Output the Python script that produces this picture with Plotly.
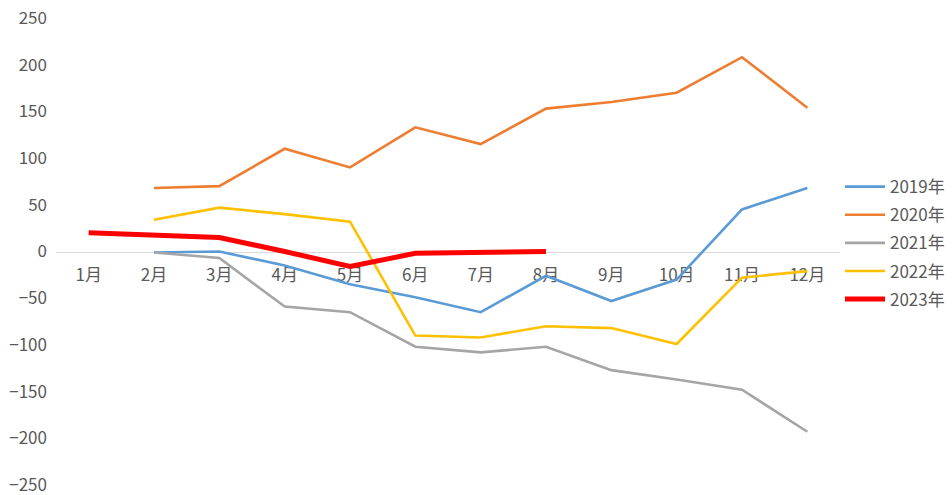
import plotly.graph_objects as go

months = ['1月', '2月', '3月', '4月', '5月', '6月', '7月', '8月', '9月', '10月', '11月', '12月']

y2019 = [None, -1, 0, -15, -35, -49, -65, -26, -53, -30, 45, 68]
y2020 = [None, 68, 70, 110, 90, 133, 115, 153, 160, 170, 208, 154]
y2021 = [None, -1, -7, -59, -65, -102, -108, -102, -127, -137, -148, -193]
y2022 = [None, 34, 47, 40, 32, -90, -92, -80, -82, -99, -28, -21]
y2023 = [20, 17, 15, 0, -16, -2, -1, 0, None, None, None, None]

series = [
    ('2019年', y2019, '#5B9BD5', 2.6),
    ('2020年', y2020, '#ED7D31', 2.6),
    ('2021年', y2021, '#A5A5A5', 2.6),
    ('2022年', y2022, '#FFC000', 2.6),
    ('2023年', y2023, '#FF0000', 5),
]

fig = go.Figure()
for name, vals, color, width in series:
    fig.add_trace(go.Scatter(x=months, y=vals, name=name, mode='lines',
                             legendgroup=name,
                             line=dict(color=color, width=width)))

font = dict(family='Noto Sans CJK SC, Noto Sans, sans-serif', size=17, color='#595959')

fig.update_layout(
    width=952, height=495,
    margin=dict(l=56, r=112, t=18, b=10, autoexpand=False),
    plot_bgcolor='white', paper_bgcolor='white',
    font=font,
    showlegend=True,
    legend=dict(x=1.0, xanchor='left', y=0.518, yanchor='middle',
                font=font, itemwidth=40, tracegroupgap=3),
)
fig.update_xaxes(type='category', range=[-0.5, 11.5], anchor='free', position=0.5,
                 showline=True, linecolor='#D9D9D9', linewidth=1, automargin=False,
                 layer='below traces',
                 showgrid=False, zeroline=False, ticks='', ticklabelstandoff=8)
fig.update_yaxes(range=[-250, 250], dtick=50, tick0=0, showgrid=False, automargin=False,
                 ticklabeloverflow='allow',
                 zeroline=False, showline=False, ticks='', ticklabelstandoff=8)

# drop the default 8px body margin so the figure fills the window
fig.write_html('out.html', config={'displayModeBar': False},
               post_script="document.body.style.margin='0';")
